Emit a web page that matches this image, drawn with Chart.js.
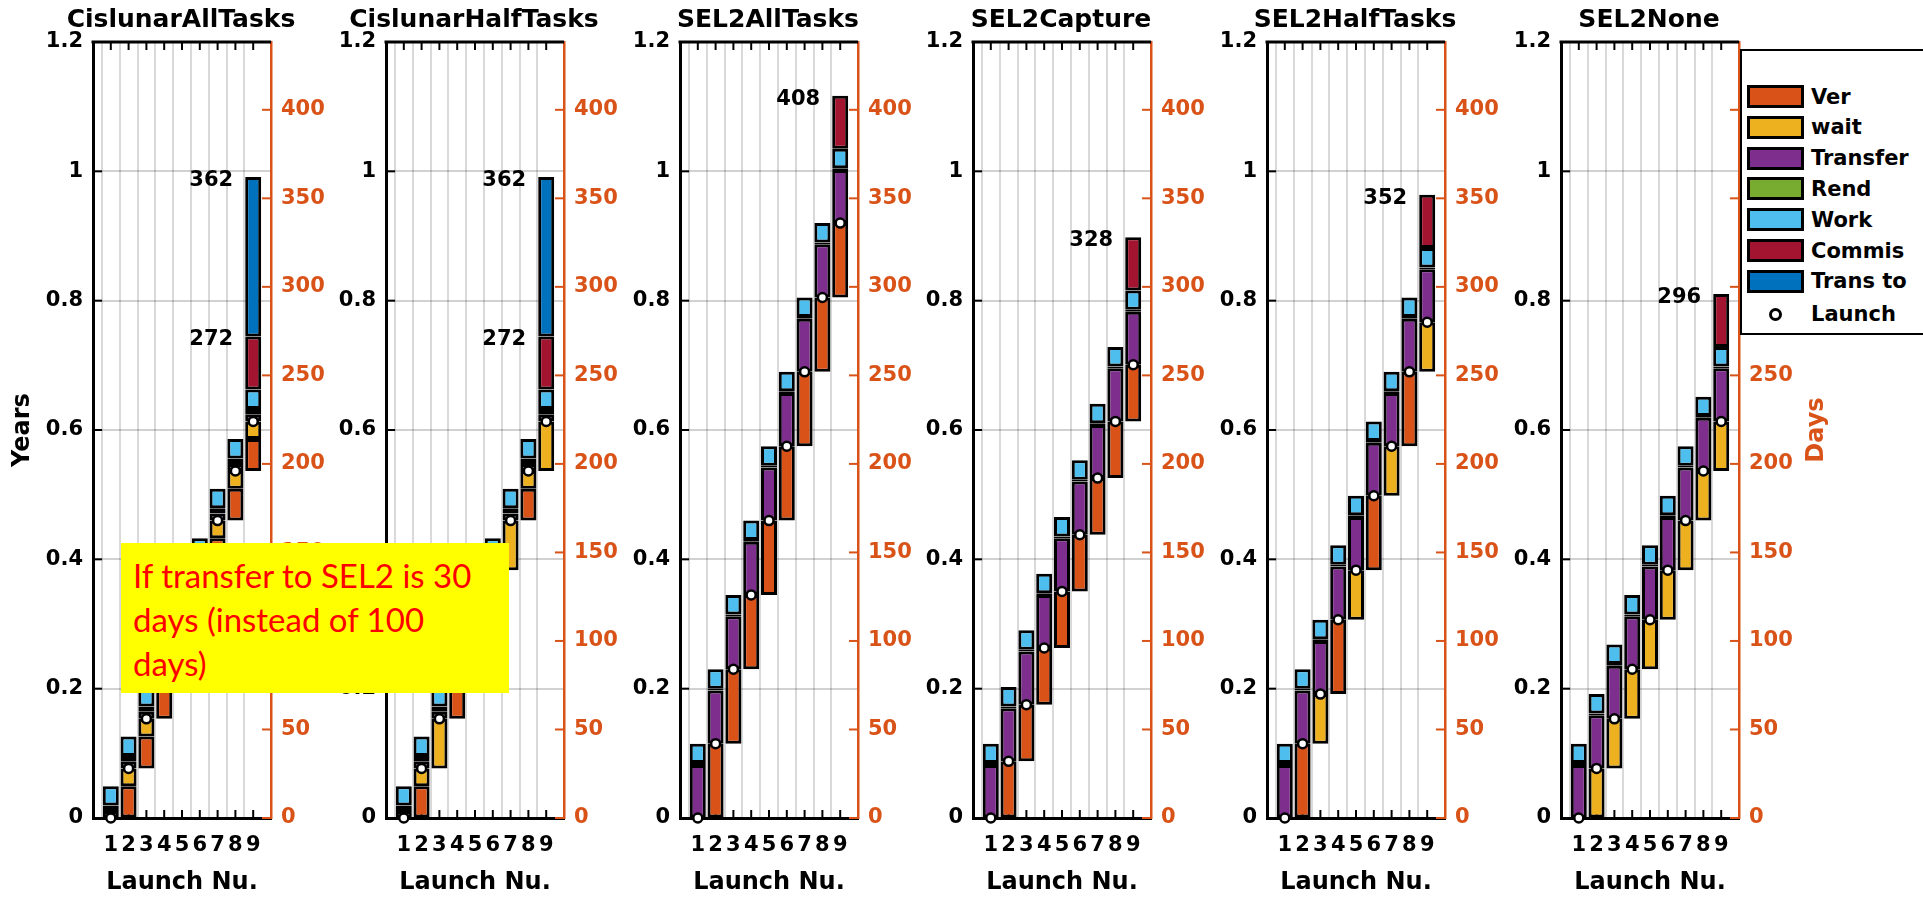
<!DOCTYPE html>
<html lang="en">
<head>
<meta charset="UTF-8">
<title>Launch campaign timelines</title>
<script src="https://cdn.jsdelivr.net/npm/chart.js"></script>
<style>
  body { margin: 0; background: #fff; overflow: hidden; }
  #fig { position: relative; width: 1923px; height: 898px; overflow: hidden; background: #fff; }
  #fig canvas { position: absolute; top: 0; }
  #legend {
    position: absolute; left: 1740px; top: 49px; width: 240px; height: 282px;
    background: #fff; border: 2.5px solid #000; z-index: 5;
    font: bold 21px "DejaVu Sans", sans-serif; color: #000;
  }
  .row { position: absolute; left: 5px; height: 23px; display: flex; align-items: center; white-space: nowrap; }
  .patch { width: 51px; height: 17px; border: 3px solid #000; margin-right: 7px; }
  .dot { width: 57px; height: 23px; margin-right: 7px; display: flex; justify-content: center; align-items: center; }
  .dot span { width: 7px; height: 7px; border: 3px solid #000; border-radius: 50%; background: #fff; }
  #note {
    position: absolute; left: 121px; top: 543px; width: 388px; height: 150px;
    padding: 10px 0 0 12px; box-sizing: border-box;
    background: #ffff00; color: #ff0000; z-index: 6;
    font: 33px Lato, "Open Sans", sans-serif; line-height: 44px;
  }
</style>
</head>
<body>
<div id="fig">
  <div id="legend"></div>
  <div id="note">If transfer to SEL2 is 30<br>days (instead of 100<br>days)</div>
</div>

<script>
  // launch numbers and panel names
  const launchNo = ['1', '2', '3', '4', '5', '6', '7', '8', '9'];
  const panelNames = ['CislunarAllTasks', 'CislunarHalfTasks', 'SEL2AllTasks', 'SEL2Capture', 'SEL2HalfTasks', 'SEL2None'];
  const phaseNames = ['Ver', 'wait', 'Transfer', 'Rend', 'Work', 'Commis', 'Trans to'];
  const phaseColors = ['#D95319', '#EDB120', '#7E2F8E', '#77AC30', '#4DBEEE', '#A2142F', '#0072BD'];

  // days spent in each phase, per launch (one row per panel)
  const verDays = [
    [0, 18, 18, 18, 18, 18, 18, 18, 18],
    [0, 18, 0, 18, 0, 18, 0, 18, 0],
    [0, 42, 42, 42, 42, 42, 42, 42, 42],
    [0, 32, 32, 32, 32, 32, 32, 32, 32],
    [0, 42, 0, 42, 0, 42, 0, 42, 0],
    [0, 0, 0, 0, 0, 0, 0, 0, 0]
  ];
  const waitDays = [
    [0, 10, 10, 10, 10, 10, 10, 10, 10],
    [0, 10, 28, 10, 28, 10, 28, 10, 28],
    [0, 0, 0, 0, 0, 0, 0, 0, 0],
    [0, 0, 0, 0, 0, 0, 0, 0, 0],
    [0, 0, 28, 0, 28, 0, 28, 0, 28],
    [0, 28, 28, 28, 28, 28, 28, 28, 28]
  ];
  // per panel, same for every launch
  const transferDays = [4, 4, 30, 30, 30, 30];
  const rendDays = [3, 3, 1, 1, 1, 1];
  const workDays = [11, 11, 11, 11, 11, 11];
  // only after the last launch
  const commisDays = [30, 30, 30, 30, 30, 30];
  const transToDays = [90, 90, 0, 0, 0, 0];

  const yearTicks = [0, 0.2, 0.4, 0.6, 0.8, 1, 1.2];
  const dayTicks = [0, 50, 100, 150, 200, 250, 300, 350, 400];

  const panelLeft = [93, 386, 680, 973, 1267, 1561];
  const ORANGE = '#D95319';
  const FONT = 'DejaVu Sans';
  Chart.defaults.font.family = FONT;

  function buildPanel(p) {
    const n = launchNo.length;
    const segs = phaseNames.map(() => new Array(n + 2).fill(null));
    const launch = new Array(n + 2).fill(null);
    let prev = 0, top = 0, commisEnd = 0;
    for (let k = 0; k < n; k++) {
      let t = prev;
      const put = (ph, d) => { if (d > 0) segs[ph][k + 1] = [t, t + d]; t += d; };
      put(0, verDays[p][k]);
      put(1, waitDays[p][k]);
      launch[k + 1] = t;
      prev = t;
      put(2, transferDays[p]);
      put(3, rendDays[p]);
      put(4, workDays[p]);
      if (k === n - 1) {
        put(5, commisDays[p]);
        commisEnd = t;
        put(6, transToDays[p]);
        top = t;
      }
    }
    const marks = [top];
    if (transToDays[p] > 0) marks.push(commisEnd);
    return { segs, launch, marks };
  }

  function line(ctx, x1, y1, x2, y2) {
    ctx.beginPath(); ctx.moveTo(x1, y1); ctx.lineTo(x2, y2); ctx.stroke();
  }

  // matlab-ish box: inward ticks, top edge, value marks, side titles
  const matlabAxes = {
    id: 'matlabAxes',
    beforeDatasetsDraw(chart) {
      const { ctx, chartArea: a, scales } = chart;
      ctx.save();
      ctx.lineWidth = 2;
      ctx.strokeStyle = '#000';
      for (let i = 1; i <= launchNo.length; i++) {
        const x = scales.x.getPixelForValue(i);
        line(ctx, x, a.bottom, x, a.bottom - 8);
        line(ctx, x, a.top, x, a.top + 8);
      }
      yearTicks.forEach(v => {
        const y = scales.yr.getPixelForValue(v);
        line(ctx, a.left, y, a.left + 9, y);
      });
      ctx.strokeStyle = ORANGE;
      dayTicks.forEach(v => {
        const y = scales.days.getPixelForValue(v);
        line(ctx, a.right, y, a.right - 9, y);
      });
      ctx.restore();
    },
    afterDraw(chart, args, opts) {
      const { ctx, chartArea: a, scales } = chart;
      ctx.save();
      ctx.strokeStyle = '#000';
      ctx.lineWidth = 3;
      line(ctx, a.left - 1.5, a.top, a.right, a.top);

      ctx.fillStyle = '#000';
      ctx.font = 'bold 21px "' + FONT + '"';
      ctx.textAlign = 'right';
      ctx.textBaseline = 'middle';
      const xl = scales.x.getPixelForValue(launchNo.length) - 20;
      opts.marks.forEach(v => {
        ctx.fillText(String(Math.round(v)), xl, scales.days.getPixelForValue(v - 2));
      });

      ctx.font = 'bold 24px "' + FONT + '"';
      ctx.textAlign = 'center';
      const yc = (a.top + a.bottom) / 2;
      if (opts.leftTitle) {
        ctx.save(); ctx.translate(22, yc); ctx.rotate(-Math.PI / 2);
        ctx.fillText(opts.leftTitle, 0, 0); ctx.restore();
      }
      if (opts.rightTitle) {
        ctx.fillStyle = ORANGE;
        ctx.save(); ctx.translate(a.right + 78, yc); ctx.rotate(-Math.PI / 2);
        ctx.fillText(opts.rightTitle, 0, 0); ctx.restore();
      }
      ctx.restore();
    }
  };

  const tickFont = { family: FONT, size: 21, weight: 'bold' };
  const fig = document.getElementById('fig');

  panelNames.forEach((name, p) => {
    const b = buildPanel(p);
    const cv = document.createElement('canvas');
    cv.width = 360;
    cv.height = 898;
    cv.style.left = (panelLeft[p] - 92) + 'px';
    fig.appendChild(cv);

    const bars = phaseNames.map((ph, i) => ({
      label: ph,
      data: b.segs[i],
      backgroundColor: phaseColors[i],
      borderColor: '#000',
      borderWidth: 3,
      borderSkipped: false,
      inflateAmount: 0,
      grouped: false,
      barThickness: 16,
      yAxisID: 'days',
      order: 1
    }));

    new Chart(cv, {
      type: 'bar',
      data: {
        labels: ['', ...launchNo, ''],
        datasets: [{
          type: 'line',
          label: 'Launch',
          data: b.launch,
          yAxisID: 'days',
          showLine: false,
          pointRadius: 4.5,
          pointBorderWidth: 2.5,
          pointBackgroundColor: '#fff',
          pointBorderColor: '#000',
          clip: false,
          order: 0
        }, ...bars]
      },
      options: {
        responsive: false,
        animation: false,
        events: [],
        layout: { padding: 0 },
        plugins: {
          legend: { display: false },
          tooltip: { enabled: false },
          title: {
            display: true, text: name, color: '#000',
            font: { family: FONT, size: 25, weight: 'bold' },
            padding: { top: 5, bottom: 7 }
          },
          matlabAxes: {
            marks: b.marks,
            leftTitle: p === 0 ? 'Years' : '',
            rightTitle: p === panelNames.length - 1 ? 'Days' : ''
          }
        },
        scales: {
          x: {
            type: 'category',
            offset: false,
            grid: {
              color: c => (c.index > 0 && c.index <= launchNo.length) ? 'rgba(0,0,0,0.15)' : 'rgba(0,0,0,0)',
              lineWidth: 2,
              drawTicks: false
            },
            border: { color: '#000', width: 3 },
            ticks: { color: '#000', font: tickFont, padding: 15, autoSkip: false, maxRotation: 0 },
            title: {
              display: true, text: 'Launch Nu.', color: '#000',
              font: { family: FONT, size: 24, weight: 'bold' },
              padding: { top: 0, bottom: 1 }
            },
            afterFit: s => { s.height = 80; }
          },
          yr: {
            position: 'left',
            min: 0,
            max: yearTicks[yearTicks.length - 1],
            afterBuildTicks: s => { s.ticks = yearTicks.map(v => ({ value: v })); },
            grid: {
              color: c => (c.tick && c.tick.value > 0 && c.tick.value < 1.2) ? 'rgba(0,0,0,0.18)' : 'rgba(0,0,0,0)',
              lineWidth: 2,
              drawTicks: false
            },
            border: { color: '#000', width: 3 },
            ticks: { color: '#000', font: tickFont, padding: 10, callback: v => String(v) },
            afterFit: s => { s.width = 92; }
          },
          days: {
            position: 'right',
            min: 0,
            max: yearTicks[yearTicks.length - 1] * 365.25,
            afterBuildTicks: s => { s.ticks = dayTicks.map(v => ({ value: v })); },
            grid: { drawOnChartArea: false, drawTicks: false },
            border: { color: ORANGE, width: 2.5 },
            ticks: { color: ORANGE, font: tickFont, padding: 10, callback: v => String(v) },
            afterFit: s => { s.width = 90; }
          }
        }
      },
      plugins: [matlabAxes]
    });
  });

  // legend box (drawn over the last panel, as in the figure)
  const legend = document.getElementById('legend');
  const rowTop0 = 34;
  phaseNames.forEach((ph, i) => {
    const row = document.createElement('div');
    row.className = 'row';
    row.style.top = (rowTop0 + i * 30.8) + 'px';
    row.innerHTML = '<div class="patch" style="background:' + phaseColors[i] + '"></div>' + ph;
    legend.appendChild(row);
  });
  const lrow = document.createElement('div');
  lrow.className = 'row';
  lrow.style.top = (rowTop0 + 7 * 30.8 + 2) + 'px';
  lrow.innerHTML = '<div class="dot"><span></span></div>Launch';
  legend.appendChild(lrow);
</script>
</body>
</html>
